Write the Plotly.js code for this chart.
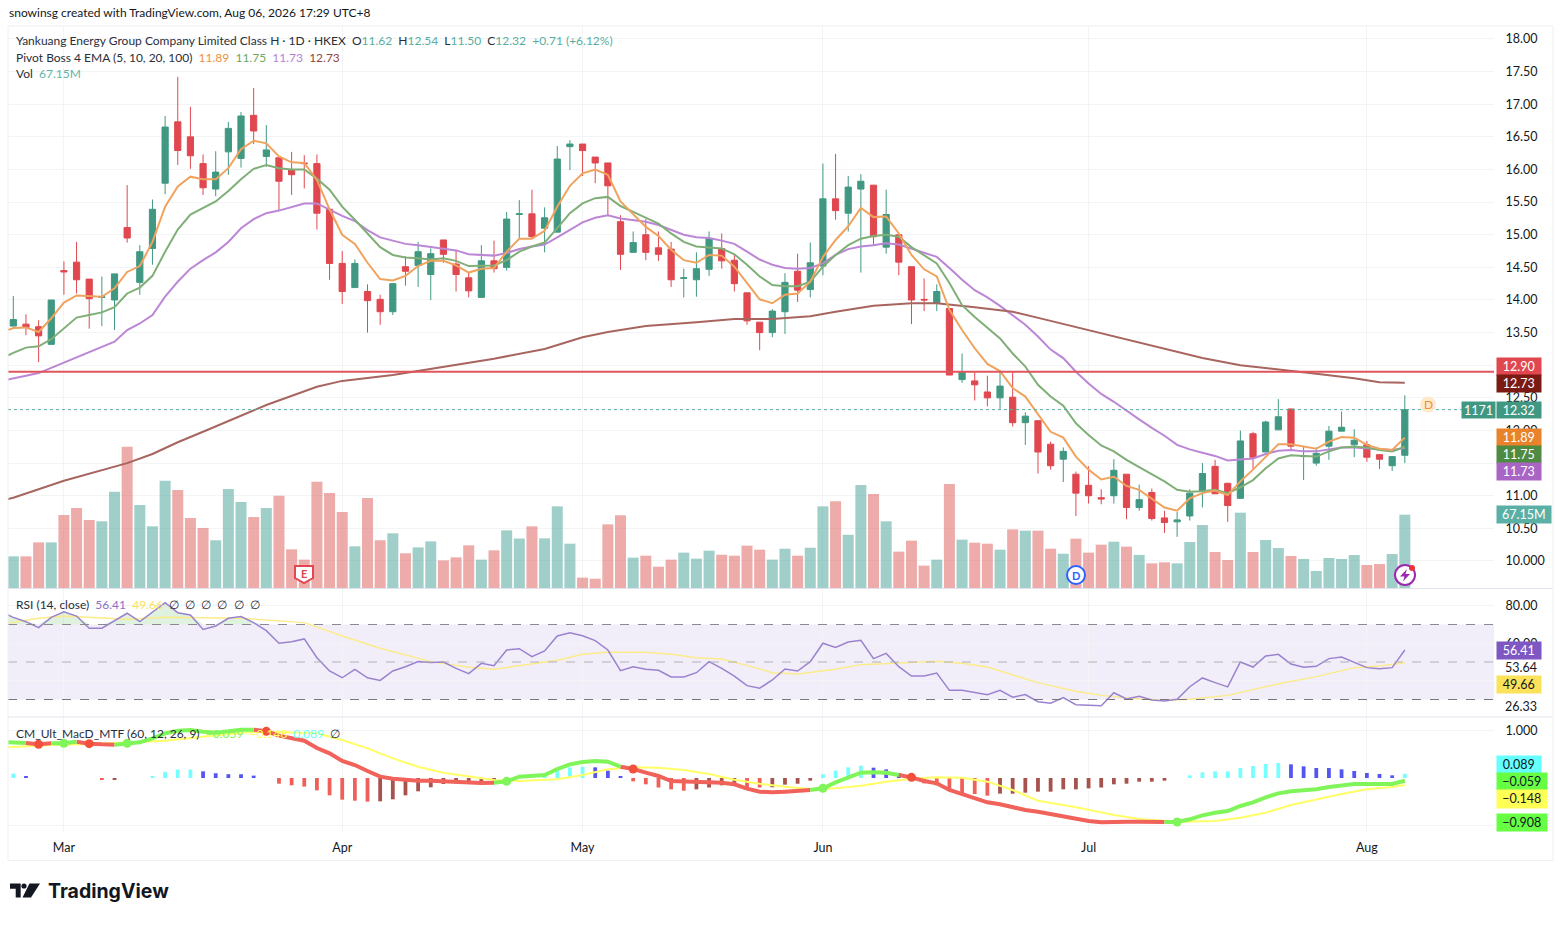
<!DOCTYPE html>
<html>
<head>
<meta charset="utf-8">
<script src="https://cdn.plot.ly/plotly-3.0.1.min.js"></script>
<style>html,body{margin:0;padding:0;background:#fff}</style>
</head>
<body>
<div id="chart" style="width:1568px;height:926px"></div>
<script>
// daily bars
var openP = [13.60,13.63,13.59,13.32,14.45,14.58,14.32,14.04,14.00,15.11,
14.27,14.79,15.79,16.73,16.50,16.09,15.70,16.27,16.17,16.83,
16.20,16.18,16.00,16.10,16.09,15.39,14.56,14.19,14.13,14.01,
13.82,14.51,14.53,14.39,14.92,14.55,14.34,14.04,14.60,14.50,
15.31,15.32,15.10,15.04,16.35,16.39,16.19,16.10,15.20,14.73,
15.00,14.80,14.78,14.33,14.31,14.47,14.79,14.61,14.11,13.66,
13.50,13.82,14.44,14.16,14.52,15.55,15.33,15.70,15.76,14.81,
15.00,14.51,14.01,13.95,13.87,12.78,12.76,12.59,12.50,12.51,
12.12,12.15,11.79,11.56,11.33,11.16,10.97,11.00,11.33,10.82,
11.05,10.66,10.60,10.69,11.07,11.45,11.19,10.96,11.95,11.67,
12.01,12.33,11.60,11.50,11.76,11.99,11.78,11.78,11.63,11.46,11.62];
var highP = [14.06,13.78,13.69,14.00,14.59,14.89,14.32,14.36,14.40,15.76,
14.84,15.54,16.82,17.42,16.96,16.23,16.28,16.73,16.88,17.25,
16.68,16.18,16.27,16.22,16.23,15.39,14.75,14.62,14.24,14.08,
14.26,14.67,14.89,14.79,14.92,14.77,14.43,14.84,14.91,15.35,
15.53,15.69,15.42,16.36,16.45,16.39,16.19,16.10,15.30,15.05,
15.24,15.05,14.89,14.48,14.73,15.05,15.02,14.69,14.11,13.66,
13.86,14.41,14.71,14.88,16.09,16.24,15.90,15.93,15.76,15.69,
15.00,14.51,14.33,14.24,13.87,13.18,12.89,12.84,12.90,12.90,
12.28,12.15,11.83,11.74,11.37,11.45,11.10,11.56,11.33,11.17,
11.11,10.77,10.75,11.10,11.50,11.55,11.20,12.00,11.98,12.15,
12.48,12.33,11.75,11.74,12.07,12.29,12.02,11.84,11.63,11.60,12.54];
var lowP = [13.60,13.46,13.05,13.32,14.08,14.10,13.56,13.60,13.54,14.88,
14.08,14.54,15.62,16.07,16.01,15.61,15.59,15.92,16.03,16.39,
16.04,15.38,15.61,15.71,15.08,14.31,13.94,14.19,13.50,13.62,
13.77,14.22,14.20,14.00,14.57,14.13,14.04,14.04,14.42,14.45,
14.94,14.94,14.73,15.04,15.99,15.90,15.79,15.30,14.46,14.73,
14.61,14.60,14.20,14.04,14.05,14.37,14.48,14.13,13.62,13.23,
13.43,13.48,13.97,14.04,14.38,15.23,15.05,14.42,14.84,14.71,
14.38,13.63,13.83,13.83,12.85,12.73,12.46,12.37,12.33,12.06,
11.78,11.34,11.40,11.21,10.69,10.88,10.87,10.88,10.64,10.77,
10.62,10.43,10.37,10.62,10.82,11.03,10.60,10.96,11.40,11.67,
12.01,11.71,11.24,11.46,11.55,11.99,11.59,11.52,11.41,11.38,11.50];
var closeP = [13.70,13.58,13.45,14.00,14.43,14.31,14.02,14.05,14.40,14.95,
14.74,15.39,16.65,16.29,16.21,15.72,15.96,16.63,16.82,16.59,
16.30,15.82,15.92,16.09,15.33,14.56,14.13,14.56,13.99,13.82,
14.25,14.44,14.74,14.71,14.70,14.39,14.14,14.60,14.48,15.24,
15.32,14.97,15.26,16.16,16.39,16.29,16.10,15.75,14.70,14.88,
14.73,14.70,14.31,14.34,14.48,14.94,14.60,14.25,13.68,13.50,
13.83,14.27,14.15,14.57,15.55,15.37,15.73,15.82,14.97,15.31,
14.58,14.00,14.00,14.13,12.85,12.89,12.70,12.50,12.68,12.12,
12.22,11.67,11.46,11.68,11.04,11.00,10.95,11.39,10.82,10.94,
10.65,10.59,10.63,11.04,11.34,11.03,10.85,11.84,11.59,12.13,
12.21,11.76,11.61,11.65,11.99,12.05,11.85,11.59,11.56,11.60,12.32];
var volume = [29.0,29.0,41.8,41.8,66.9,73.3,62.3,61.1,88.2,129.4,
76.0,56.5,98.3,89.8,64.1,55.0,43.7,90.7,78.8,65.0,
73.3,84.6,35.4,26.0,97.4,87.0,69.6,38.2,82.4,43.7,
50.1,31.8,37.2,42.7,25.3,28.1,39.1,26.0,34.5,52.8,
45.3,56.5,45.5,74.8,40.6,9.5,8.5,58.3,66.6,27.8,
29.6,19.5,26.0,32.4,26.9,34.2,30.5,29.6,38.8,35.1,
26.0,36.0,29.6,36.9,74.8,79.4,48.8,94.3,86.1,61.1,
33.3,43.4,20.5,26.0,95.3,44.3,41.5,40.6,35.1,53.7,
52.5,52.5,36.0,31.4,45.2,32.4,39.7,42.4,37.9,30.3,
22.6,23.5,22.6,42.1,57.7,33.0,25.6,69.0,33.0,44.0,
36.6,29.3,26.6,15.6,27.5,26.6,30.2,21.1,22.0,31.1,67.15];

// lines start just before the first whole bar, at the pane's left edge
var edgeBar = -0.42;
var ema5 = [13.54,13.57,13.58,13.51,13.72,13.96,14.07,14.06,14.05,14.18,14.43,
14.52,14.89,15.43,15.74,15.89,15.85,15.85,16.02,16.31,16.44,
16.40,16.20,16.11,16.10,15.84,15.39,15.00,14.86,14.57,14.32,
14.30,14.37,14.52,14.60,14.60,14.53,14.42,14.48,14.49,14.74,
14.94,14.94,15.06,15.43,15.75,15.94,16.00,15.92,15.51,15.31,
15.12,14.98,14.77,14.61,14.57,14.69,14.68,14.51,14.26,14.01,
13.95,14.08,14.10,14.28,14.66,14.92,15.13,15.41,15.27,15.28,
15.02,14.69,14.47,14.36,13.85,13.54,13.26,13.02,12.91,12.65,
12.52,12.24,11.98,11.89,11.60,11.40,11.25,11.29,11.15,11.09,
10.96,10.82,10.77,10.96,11.04,11.08,11.01,11.22,11.40,11.60,
11.79,11.79,11.75,11.72,11.83,11.90,11.89,11.78,11.72,11.70,11.89];
var ema10 = [13.15,13.19,13.27,13.29,13.40,13.57,13.73,13.77,13.81,13.89,14.10,
14.19,14.37,14.74,15.08,15.31,15.41,15.51,15.67,15.85,16.01,
16.07,16.02,16.00,16.00,15.86,15.69,15.43,15.23,15.02,14.81,
14.69,14.65,14.64,14.62,14.64,14.60,14.52,14.52,14.53,14.61,
14.74,14.82,14.88,15.10,15.33,15.48,15.56,15.58,15.44,15.35,
15.26,15.17,15.02,14.89,14.82,14.81,14.79,14.70,14.54,14.36,
14.23,14.21,14.21,14.28,14.51,14.69,14.84,14.94,14.98,15.00,
14.97,14.81,14.68,14.56,14.26,13.92,13.74,13.58,13.41,13.18,
12.98,12.70,12.52,12.38,12.11,11.93,11.77,11.68,11.55,11.44,
11.33,11.22,11.09,11.06,11.07,11.09,11.04,11.13,11.24,11.42,
11.57,11.62,11.61,11.60,11.68,11.74,11.75,11.74,11.70,11.68,11.75];
var ema20 = [12.78,12.80,12.84,12.88,12.96,13.05,13.12,13.21,13.28,13.36,13.54,
13.64,13.77,14.05,14.28,14.48,14.61,14.73,14.89,15.10,15.24,
15.33,15.37,15.43,15.48,15.48,15.38,15.29,15.21,15.07,14.96,
14.91,14.86,14.84,14.81,14.79,14.76,14.70,14.69,14.68,14.72,
14.78,14.82,14.85,14.96,15.07,15.19,15.26,15.30,15.25,15.23,
15.20,15.15,15.07,15.00,14.96,14.95,14.91,14.86,14.74,14.62,
14.54,14.49,14.48,14.49,14.56,14.69,14.78,14.82,14.84,14.87,
14.85,14.79,14.73,14.66,14.49,14.31,14.15,14.04,13.91,13.77,
13.62,13.44,13.24,13.11,12.90,12.72,12.56,12.44,12.30,12.17,
12.04,11.92,11.78,11.71,11.66,11.61,11.54,11.55,11.57,11.64,
11.69,11.70,11.68,11.68,11.71,11.74,11.74,11.73,11.71,11.70,11.73];
// the slow lines are smooth, so they are read every few bars
var ema100Bars = [-0.42,0,4,9,11,13,15,20,24,26,30,34,38,42,45,47,50,54,57,60,63,65,68,71,73,76,79,82,85,88,91,94,97,100,103,106,108,110];
var ema100 = [10.95,10.97,11.23,11.50,11.64,11.82,11.98,12.39,12.67,12.76,12.85,12.97,13.10,13.25,13.43,13.51,13.60,13.66,13.71,13.71,13.75,13.82,13.91,13.95,13.95,13.89,13.82,13.68,13.54,13.39,13.25,13.11,13.00,12.94,12.87,12.80,12.74,12.73];

var rsi = [75.1,73.8,71.5,68.3,73.8,76.8,74.5,68.0,68.0,72.0,76.0,
71.5,76.8,81.6,76.3,75.1,67.4,69.2,73.3,74.2,71.0,
66.7,60.0,60.8,62.3,52.3,45.2,41.6,46.1,41.6,40.2,
45.2,47.5,50.2,49.8,50.0,46.6,43.8,49.3,48.0,56.4,
57.1,52.8,55.9,63.9,65.6,64.0,61.4,56.4,45.4,47.5,
46.1,45.6,42.0,42.0,44.3,50.2,46.6,42.5,37.4,36.0,
40.4,46.3,45.2,50.2,60.0,57.8,60.7,61.6,51.8,54.6,
47.5,42.5,42.5,44.1,34.9,34.9,33.8,32.6,34.9,31.2,
32.6,28.8,28.0,31.0,27.2,27.0,26.7,33.6,30.3,31.7,
29.7,29.2,30.1,36.8,41.5,39.0,36.7,50.0,47.3,53.2,
54.1,48.9,47.2,47.7,51.8,52.7,49.8,47.0,46.4,47.0,56.41];
var rsiMaBars = [-0.42,0,2,4,9,12,18,20,23,26,29,33,36,38,40,43,45,47,50,52,54,56,58,60,62,65,67,70,73,75,77,81,84,86,89,91,93,96,98,100,103,106,108,110];
var rsiMa = [71.0,71.2,73.3,74.5,72.8,73.8,73.3,72.4,71.0,63.9,57.3,50.2,47.2,46.1,48.0,50.9,54.1,55.2,55.2,54.1,52.3,51.6,48.2,44.3,43.6,46.1,48.6,49.6,50.4,49.3,47.3,39.0,34.4,32.2,30.3,29.6,30.1,32.2,35.1,38.4,42.2,47.0,47.9,49.66];

var macd = [0.749,0.749,0.735,0.707,0.728,0.728,0.763,0.721,0.707,0.700,0.728,
0.749,0.833,0.938,0.994,1.008,0.973,0.952,0.980,1.015,1.015,
0.980,0.889,0.833,0.784,0.630,0.518,0.357,0.273,0.147,0.028,
-0.014,-0.042,-0.056,-0.056,-0.070,-0.098,-0.112,-0.105,-0.098,-0.070,
0.028,0.042,0.063,0.189,0.287,0.336,0.357,0.343,0.238,0.189,
0.112,0.042,-0.063,-0.070,-0.091,-0.098,-0.098,-0.133,-0.224,-0.287,
-0.301,-0.287,-0.273,-0.252,-0.217,-0.091,0.007,0.112,0.119,0.112,
0.063,0.014,-0.063,-0.112,-0.252,-0.343,-0.427,-0.511,-0.553,-0.616,
-0.672,-0.707,-0.756,-0.812,-0.868,-0.903,-0.931,-0.917,-0.917,-0.917,
-0.924,-0.924,-0.924,-0.868,-0.784,-0.728,-0.693,-0.588,-0.511,-0.406,
-0.322,-0.280,-0.259,-0.238,-0.189,-0.147,-0.126,-0.126,-0.133,-0.126,-0.059];
var signalBars = [-0.42,0,3,6,9,12,15,18,20,22,24,26,28,30,32,34,36,38,40,43,45,47,49,51,53,55,57,59,61,63,65,67,69,71,73,75,77,79,81,84,87,89,92,95,97,99,101,103,105,107,109,110];
var signal = [0.645,0.651,0.693,0.714,0.742,0.784,0.868,0.952,0.973,0.959,0.938,0.798,0.623,0.413,0.238,0.112,0.028,-0.042,-0.063,-0.028,0.063,0.182,0.224,0.217,0.168,0.084,-0.035,-0.119,-0.182,-0.231,-0.217,-0.161,-0.077,-0.014,0.014,0.007,-0.077,-0.252,-0.476,-0.616,-0.777,-0.861,-0.917,-0.903,-0.833,-0.728,-0.567,-0.448,-0.336,-0.238,-0.189,-0.148];
var hist = [0.09,0.03,0,0,0,0,0,-0.03,-0.03,0,
0,0.03,0.13,0.18,0.18,0.14,0.10,0.08,0.079,0.05,
0,-0.12,-0.154,-0.18,-0.26,-0.364,-0.455,-0.476,-0.497,-0.49,
-0.448,-0.364,-0.28,-0.196,-0.126,-0.112,-0.112,-0.084,-0.056,0,
0,0.04,0.09,0.147,0.224,0.238,0.224,0.154,0.04,-0.07,
-0.133,-0.2,-0.238,-0.266,-0.238,-0.2,-0.154,-0.15,-0.19,-0.2,
-0.196,-0.14,-0.12,-0.056,0.077,0.154,0.224,0.259,0.217,0.182,
0.098,-0.03,-0.112,-0.154,-0.273,-0.322,-0.336,-0.371,-0.329,-0.329,
-0.308,-0.287,-0.287,-0.238,-0.238,-0.217,-0.2,-0.133,-0.119,-0.077,
-0.077,-0.056,0,0.056,0.119,0.14,0.14,0.21,0.252,0.294,
0.315,0.287,0.245,0.21,0.209,0.182,0.147,0.105,0.084,0.056,0.089];
var macdRedRuns = [[1,3],[5,8],[19,38],[48,63],[70,91]];
var macdGreenRuns = [[0,1],[3,5],[8,19],[38,48],[63,70],[91,110]];
var crossRed = [2,6,20,49,71];
var crossGreen = [4,9,39,64,92];

var monthBars = [4,26,45,64,85,107];
var monthNames = ['Mar','Apr','May','Jun','Jul','Aug'];
var priceTicks = [10,10.5,11,11.5,12,12.5,13,13.5,14,14.5,15,15.5,16,16.5,17,17.5,18];
var priceTickText = ['10.000','10.50','11.00','11.50','12.00','12.50','13.00','13.50','14.00','14.50','15.00','15.50','16.00','16.50','17.00','17.50','18.00'];
var hLine = 12.90;
var lastPrice = 12.32;

var W = 1568, H = 926;
var PL = 8, PR = 1494, PT = 26, PB = 833;
var bars = closeP.map(function(c, i) { return i; });
var lineBars = [edgeBar].concat(bars);
var UP = '#419882', DOWN = '#E0474F';
var FONT = 'Lato, "Noto Sans", sans-serif';

var volColors = bars.map(function(i) {
  return closeP[i] >= openP[i] ? 'rgba(65,160,150,0.5)' : 'rgba(220,90,85,0.5)';
});
var histColors = bars.map(function(i) {
  var prev = i > 0 ? hist[i-1] : 0;
  if (hist[i] >= 0) return hist[i] >= prev ? '#77FFFF' : '#5555F0';
  return hist[i] >= prev ? '#A8524E' : '#F0605A';
});

var data = [];
data.push({type:'bar', x:bars, y:volume, yaxis:'y', marker:{color:volColors, line:{width:0}}, hoverinfo:'skip'});

function priceLine(xs, ys, color) {
  return {type:'scatter', mode:'lines', x:xs, y:ys, yaxis:'y2', line:{color:color, width:2}, hoverinfo:'skip'};
}
data.push(priceLine(lineBars, ema20, '#BC86D6'));
data.push(priceLine(ema100Bars, ema100, '#A8655F'));
data.push(priceLine(lineBars, ema10, '#7FAF77'));
data.push(priceLine(lineBars, ema5, '#F0A35E'));
data.push({type:'candlestick', x:bars, open:openP, high:highP, low:lowP, close:closeP, yaxis:'y2', whiskerwidth:0,
  increasing:{line:{color:UP, width:1}, fillcolor:UP},
  decreasing:{line:{color:DOWN, width:1}, fillcolor:DOWN}, hoverinfo:'skip'});

// rsi: green tint where it goes over 70
data.push({type:'scatter', mode:'lines', x:lineBars, y:lineBars.map(function() { return 70; }), yaxis:'y3', line:{width:0}, hoverinfo:'skip'});
data.push({type:'scatter', mode:'lines', x:lineBars, y:rsi.map(function(v) { return Math.max(v, 70); }), yaxis:'y3', line:{width:0},
  fill:'tonexty', fillcolor:'rgba(76,175,80,0.18)', hoverinfo:'skip'});
data.push({type:'scatter', mode:'lines', x:rsiMaBars, y:rsiMa, yaxis:'y3', line:{color:'#FBEB8A', width:1.5}, hoverinfo:'skip'});
data.push({type:'scatter', mode:'lines', x:lineBars, y:rsi, yaxis:'y3', line:{color:'#9A82CF', width:1.5}, hoverinfo:'skip'});

// macd pane
data.push({type:'bar', x:bars, y:hist, yaxis:'y4', width:0.3, marker:{color:histColors, line:{width:0}}, hoverinfo:'skip'});
data.push({type:'scatter', mode:'lines', x:signalBars, y:signal, yaxis:'y4', line:{color:'#FFFF66', width:2}, hoverinfo:'skip'});
function macdRuns(runs, color) {
  runs.forEach(function(r) {
    // +1 because macd carries the edge point in front
    data.push({type:'scatter', mode:'lines', x:lineBars.slice(r[0] ? r[0]+1 : 0, r[1]+2), y:macd.slice(r[0] ? r[0]+1 : 0, r[1]+2), yaxis:'y4',
      line:{color:color, width:4}, hoverinfo:'skip'});
  });
}
macdRuns(macdRedRuns, '#F0625A');
macdRuns(macdGreenRuns, '#80F55A');
function crossDots(list, color) {
  data.push({type:'scatter', mode:'markers', x:list, y:list.map(function(i) { return macd[i+1]; }), yaxis:'y4',
    marker:{color:color, size:9}, hoverinfo:'skip'});
}
crossDots(crossRed, '#F2503A');
crossDots(crossGreen, '#80F55A');

// paper coordinates count from the plot area, not the page
function xp(x) { return (x - PL) / (PR - PL); }
function yp(y) { return (PB - y) / (PB - PT); }
function text(t, x, y, size, color) {
  return {xref:'paper', yref:'paper', x:xp(x), y:yp(y), xanchor:'left', yanchor:'middle', align:'left', showarrow:false,
    text:t, borderpad:0, font:{family:FONT, size:size, color:color || '#131722'}};
}
function box(t, x0, x1, y0, y1, bg, fg) {
  return {xref:'paper', yref:'paper', x:xp(x0), y:yp((y0+y1)/2), xanchor:'left', yanchor:'middle', align:'center', showarrow:false,
    width:x1-x0, height:y1-y0, bgcolor:bg, borderpad:0, text:t, font:{family:FONT, size:12.5, color:fg}};
}
function mark(t, x, y, size, color, bold) {
  return {xref:'paper', yref:'paper', x:xp(x), y:yp(y), xanchor:'center', yanchor:'middle', showarrow:false, borderpad:0,
    text:bold ? '<b>'+t+'</b>' : t, font:{family:FONT, size:size, color:color}};
}
function col(c, t) { return '<span style="color:'+c+'">'+t+'</span>'; }
var GV = '#5AAE9F';

var annotations = [
  text('snowinsg created with TradingView.com, Aug 06, 2026 17:29 UTC+8', 8, 13, 12),
  text('Yankuang Energy Group Company Limited Class H · 1D · HKEX  O'+col(GV,'11.62')+'  H'+col(GV,'12.54')+'  L'+col(GV,'11.50')+'  C'+col(GV,'12.32')+'  '+col(GV,'+0.71 (+6.12%)'), 15, 40, 12, '#2A2E39'),
  text('Pivot Boss 4 EMA (5, 10, 20, 100)  '+col('#F0913A','11.89')+'  '+col('#6FA765','11.75')+'  '+col('#B982D6','11.73')+'  '+col('#96443E','12.73'), 15, 57, 12, '#2A2E39'),
  text('Vol  '+col('#5FB5AA','67.15M'), 15, 74, 12, '#2A2E39'),
  text('RSI (14, close)  '+col('#8B72C8','56.41')+'  '+col('#FBE25A','49.66')+'  ∅  ∅  ∅  ∅  ∅  ∅', 15, 604, 12, '#2A2E39'),
  text('CM_Ult_MacD_MTF (60, 12, 26, 9)  '+col('#80F55A','−0.059')+'  '+col('#FFFF55','−0.148')+'  '+col('#66FFFF','0.089')+'  ∅', 15, 733, 12, '#2A2E39'),
  box('12.90', 1495.5, 1539, 358, 375, '#E0474F', '#fff'),
  box('12.73', 1495.5, 1539, 375, 392, '#7A1A12', '#fff'),
  box('1171', 1461, 1494, 402, 418, UP, '#fff'),
  box('12.32', 1495.5, 1539, 402, 418, UP, '#fff'),
  box('11.89', 1495.5, 1539, 429, 446, '#E8832B', '#fff'),
  box('11.75', 1495.5, 1539, 446, 463, '#4E8A41', '#fff'),
  box('11.73', 1495.5, 1539, 463, 480, '#A965C4', '#fff'),
  box('67.15M', 1495.5, 1549, 506, 523, '#5AB0A5', '#fff'),
  box('56.41', 1495.5, 1539, 642, 659, '#7E57C2', '#fff'),
  text('53.64', 1504, 667, 12.5),
  box('49.66', 1495.5, 1539, 676, 693, '#FBE25A', '#131722'),
  text('26.33', 1504, 706.5, 12.5),
  box('0.089', 1495.5, 1539, 756, 773, '#66FFFF', '#131722'),
  box('−0.059', 1495.5, 1545, 773, 790, '#66FF44', '#131722'),
  box('−0.148', 1495.5, 1545, 790, 807.5, '#FFFF55', '#131722'),
  box('−0.908', 1495.5, 1545, 814, 831, '#66FF44', '#131722'),
  mark('D', 1428, 404.5, 12, '#F0912E'),
  mark('E', 304, 573.5, 11, '#E0474F', true),
  mark('D', 1076, 575, 11, '#2962FF', true),
  {xref:'paper', yref:'paper', x:xp(47), y:yp(891), xanchor:'left', yanchor:'middle', showarrow:false, borderpad:0,
    text:'<b>TradingView</b>', font:{family:'Inter, sans-serif', size:19.5, color:'#131722'}}
];

function pathPts(pts) {
  return pts.map(function(p, i) { return (i ? 'L' : 'M') + xp(p[0]) + ',' + yp(p[1]); }).join(' ') + ' Z';
}
function poly(pts, fill, lineColor, lw) {
  return {type:'path', xref:'paper', yref:'paper', path:pathPts(pts), fillcolor:fill, layer:'above',
    line:{color:lineColor || fill, width:lw || 0}};
}
function circle(cx, cy, r, fill, lineColor, lw) {
  return {type:'circle', xref:'paper', yref:'paper', x0:xp(cx-r), x1:xp(cx+r), y0:yp(cy+r), y1:yp(cy-r), fillcolor:fill, layer:'above',
    line:{color:lineColor || fill, width:lw || 0}};
}
function hRule(y, color) {
  return {type:'line', xref:'paper', yref:'paper', x0:xp(8), x1:xp(1553), y0:yp(y), y1:yp(y), line:{color:color, width:1}, layer:'above'};
}
var shapes = [
  {type:'rect', xref:'paper', yref:'y3', x0:0, x1:1, y0:30, y1:70, fillcolor:'rgba(126,87,194,0.1)', line:{width:0}, layer:'below'},
  {type:'line', xref:'paper', yref:'y3', x0:0, x1:1, y0:70, y1:70, line:{color:'#8a8a90', width:1, dash:'dash'}},
  {type:'line', xref:'paper', yref:'y3', x0:0, x1:1, y0:50, y1:50, line:{color:'#b0b0b6', width:1, dash:'dash'}},
  {type:'line', xref:'paper', yref:'y3', x0:0, x1:1, y0:30, y1:30, line:{color:'#77777d', width:1, dash:'dash'}},
  {type:'line', xref:'paper', yref:'y2', x0:0, x1:1, y0:hLine, y1:hLine, line:{color:'#E0555C', width:2}},
  {type:'line', xref:'paper', yref:'y2', x0:0, x1:1, y0:lastPrice, y1:lastPrice, line:{color:'#5AAE9F', width:1, dash:'dot'}},
  hRule(26, '#eef0f3'), hRule(588.5, '#e0e3eb'), hRule(717, '#e0e3eb'), hRule(860.5, '#eef0f3'),
  {type:'line', xref:'paper', yref:'paper', x0:xp(8), x1:xp(8), y0:yp(26), y1:yp(861), line:{color:'#eef0f3', width:1}, layer:'above'},
  {type:'line', xref:'paper', yref:'paper', x0:xp(1553), x1:xp(1553), y0:yp(26), y1:yp(861), line:{color:'#eef0f3', width:1}, layer:'above'},
  circle(1428, 404.5, 8, '#FFE9CC'),
  poly([[295,566],[313,566],[313,578],[304,583],[295,578]], '#fff', DOWN, 2),
  circle(1076, 575, 9, '#fff', '#2962FF', 2),
  circle(1405, 575, 10, '#fff', '#9C27B0', 2),
  poly([[1407,569],[1400,576.5],[1404.5,576.5],[1403,581.5],[1410,574],[1405.5,574]], '#9C27B0'),
  circle(1412, 568, 3, '#E8353B'),
  // logo
  poly([[10,883.5],[20.7,883.5],[20.7,897.5],[15.7,897.5],[15.7,888.7],[10,888.7]], '#131722'),
  circle(24, 886, 2.6, '#131722'),
  poly([[29.5,883.5],[40,883.5],[31,897.5],[22.5,897.5]], '#131722')
];

var SPAN = PB - PT;
function dom(top, bottom) { return [(PB-bottom)/SPAN, (PB-top)/SPAN]; }
var tickFont = {family:FONT, size:12.5, color:'#131722'};
var gridC = '#F3F4F6';

var layout = {
  width:W, height:H,
  margin:{l:PL, r:W-PR, t:PT, b:H-PB},
  paper_bgcolor:'#fff', plot_bgcolor:'#fff',
  showlegend:false, barmode:'overlay', bargap:0.13,
  annotations:annotations, shapes:shapes,
  xaxis:{anchor:'y4', range:[-0.42,117.05], tickmode:'array', tickvals:monthBars, ticktext:monthNames, showgrid:true, gridcolor:gridC,
    zeroline:false, showline:false, ticks:'outside', ticklen:3, tickcolor:'rgba(0,0,0,0)', tickfont:{family:FONT, size:12.5, color:'#131722'},
    rangeslider:{visible:false}},
  yaxis:{domain:dom(26,588), range:[0,514.8], showgrid:false, zeroline:false, showticklabels:false, ticks:''},
  yaxis2:{overlaying:'y', side:'right', anchor:'x', range:[9.586,18.199], tickmode:'array', tickvals:priceTicks, ticktext:priceTickText,
    showgrid:true, gridcolor:gridC, zeroline:false, ticks:'outside', ticklen:8, tickcolor:'rgba(0,0,0,0)', tickfont:tickFont},
  yaxis3:{domain:dom(589,717), side:'right', anchor:'x', range:[20.67,88.93], tickmode:'array', tickvals:[40,60,80], ticktext:['','60.00','80.00'],
    showgrid:true, gridcolor:gridC, zeroline:false, ticks:'outside', ticklen:8, tickcolor:'rgba(0,0,0,0)', tickfont:tickFont},
  yaxis4:{domain:dom(718,833), side:'right', anchor:'x', range:[-1.155,1.26], tickmode:'array', tickvals:[-1,1], ticktext:['','1.000'],
    showgrid:true, gridcolor:gridC, zeroline:false, ticks:'outside', ticklen:8, tickcolor:'rgba(0,0,0,0)', tickfont:tickFont}
};

Plotly.newPlot('chart', data, layout, {displayModeBar:false});
</script>
</body>
</html>
